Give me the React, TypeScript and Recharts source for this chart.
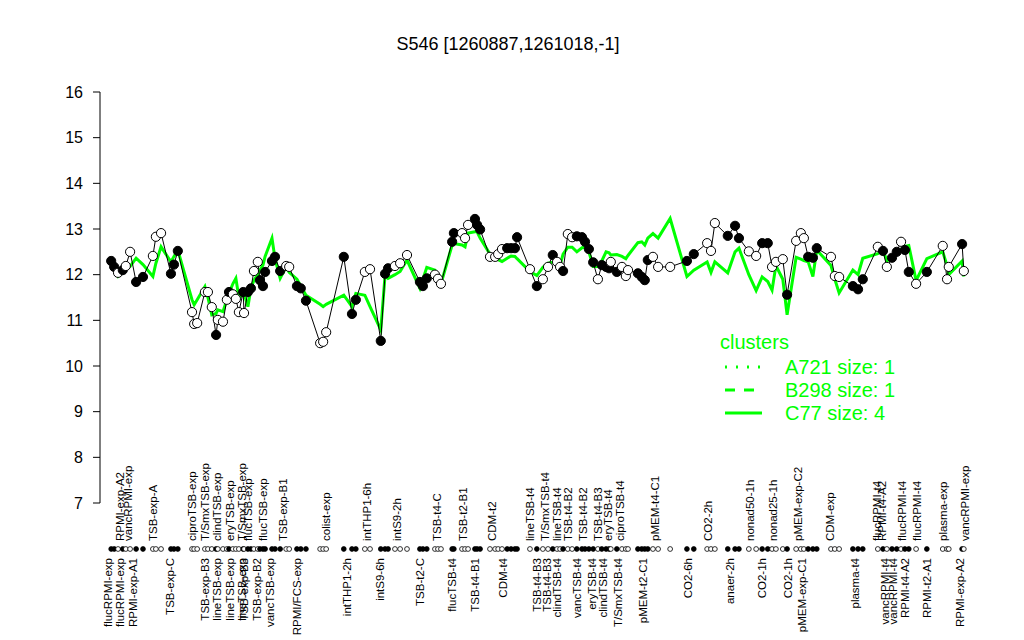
import {
  ComposedChart,
  Line,
  Scatter,
  XAxis,
  YAxis,
} from "recharts";

// position of each sample along the x axis (sample order)
const pos = [
  2.6, 3.3, 4.2, 5.3, 6.0, 7.0, 8.4, 10.0, 12.3, 13.0,
  14.2, 16.5, 17.2, 18.1, 21.4, 21.9, 22.6, 24.4, 25.1, 26.0,
  27.0, 27.4, 28.6, 29.5, 30.0, 30.9, 31.6, 32.3, 33.3, 33.5,
  34.4, 35.1, 35.8, 36.7, 37.2, 37.9, 38.4, 40.0, 40.7, 41.9,
  43.3, 44.0, 45.8, 46.7, 47.9, 51.2, 51.9, 52.6, 56.7, 58.6,
  59.5, 61.6, 62.8, 65.3, 66.3, 67.0, 68.6, 69.8, 71.4, 74.4,
  75.1, 76.0, 77.9, 78.6, 79.3, 81.9, 82.3, 84.2, 84.9, 85.6,
  87.2, 87.7, 88.4, 90.7, 91.9, 92.6, 93.5, 94.7, 95.6, 96.5,
  97.0, 100.0, 101.6, 103.0, 104.2, 105.3, 106.3, 107.0, 107.7, 108.8,
  109.8, 110.9, 112.1, 112.8, 113.7, 114.7, 115.8, 116.7, 117.7, 118.4,
  118.8, 120.2, 121.4, 122.3, 122.8, 125.1, 126.0, 126.7, 127.4, 128.6,
  129.8, 132.6, 136.5, 138.1, 141.2, 142.1, 143.0, 146.0, 147.7, 148.6,
  150.9, 152.6, 154.0, 155.3, 156.3, 157.2, 158.8, 159.8, 161.9, 163.0,
  163.7, 164.7, 165.8, 166.7, 170.0, 170.9, 171.9, 175.1, 176.3, 177.4,
  180.9, 182.1, 183.0, 184.2, 185.3, 186.3, 187.2, 188.1, 189.8, 192.3,
  196.0, 197.0, 197.4, 200.5, 200.9,
];

// S546 expression per sample
const expr = [
  12.30, 12.17, 12.04, 12.10, 12.19, 12.50, 11.84, 11.95, 12.41, 12.83,
  12.91, 12.02, 12.22, 12.52, 11.18, 10.92, 10.94, 11.62, 11.62, 11.29,
  10.68, 11.01, 10.97, 11.45, 11.62, 11.57, 11.47, 11.18, 11.62, 11.16,
  11.62, 11.70, 12.08, 12.28, 11.88, 11.75, 12.06, 12.30, 12.39, 12.08,
  12.19, 12.17, 11.75, 11.70, 11.43, 10.50, 10.53, 10.74, 12.39, 11.14,
  11.45, 12.06, 12.12, 10.55, 12.02, 12.14, 12.19, 12.25, 12.43, 11.84,
  11.75, 11.92, 12.00, 11.91, 11.80, 12.72, 12.91, 12.91, 12.80, 13.09,
  13.22, 13.09, 12.99, 12.39, 12.39, 12.45, 12.56, 12.58, 12.58, 12.58,
  12.82, 12.12, 11.75, 11.90, 12.17, 12.43, 12.28, 12.17, 12.08, 12.89,
  12.82, 12.84, 12.82, 12.72, 12.56, 12.27, 11.90, 12.21, 12.17, 12.14,
  12.28, 12.06, 12.17, 11.97, 12.10, 12.03, 11.95, 11.88, 12.32, 12.39,
  12.17, 12.17, 12.30, 12.45, 12.69, 12.52, 13.13, 12.85, 13.07, 12.80,
  12.51, 12.41, 12.69, 12.69, 12.17, 12.28, 12.34, 11.56, 12.74, 12.91,
  12.80, 12.39, 12.37, 12.58, 12.39, 11.97, 11.95, 11.75, 11.68, 11.90,
  12.61, 12.52, 12.17, 12.37, 12.50, 12.72, 12.54, 12.06, 11.80, 12.06,
  12.63, 11.90, 12.17, 12.67, 12.08,
];

// C77 cluster profile
const fitted = [
  12.21, 12.10, 11.96, 12.05, 12.12, 12.18, 12.36, 12.22, 11.96, 12.25,
  12.61, 12.28, 12.40, 12.54, 11.45, 11.34, 11.45, 11.74, 11.50, 11.12,
  11.15, 11.23, 11.19, 11.45, 11.59, 11.80, 11.92, 11.50, 11.55, 11.59,
  11.30, 11.70, 11.88, 12.00, 12.10, 12.21, 12.40, 12.80, 12.35, 11.92,
  12.18, 12.05, 11.90, 11.75, 11.55, 11.35, 11.30, 11.35, 11.55, 11.30,
  11.59, 11.55, 11.30, 10.79, 11.99, 11.92, 12.00, 12.07, 12.32, 11.70,
  11.90, 12.16, 12.10, 11.85, 11.80, 12.65, 12.68, 12.65, 12.61, 12.91,
  12.94, 12.94, 12.80, 12.45, 12.38, 12.33, 12.29, 12.36, 12.41, 12.40,
  12.35, 12.07, 11.98, 12.16, 12.25, 12.27, 12.23, 12.21, 12.45, 12.60,
  12.60, 12.50, 12.59, 12.60, 12.50, 12.18, 12.18, 12.30, 12.50, 12.48,
  12.43, 12.44, 12.40, 12.35, 12.42, 12.70, 12.72, 12.65, 12.80, 12.90,
  12.80, 13.23, 11.96, 12.10, 12.28, 12.05, 12.28, 12.04, 12.50, 12.58,
  12.00, 11.65, 11.95, 11.85, 11.66, 12.20, 11.90, 11.12, 12.38, 12.34,
  12.31, 12.28, 11.96, 12.54, 12.20, 11.90, 11.60, 12.10, 12.00, 12.36,
  12.46, 12.54, 12.30, 12.36, 12.45, 12.55, 12.62, 12.64, 11.87, 12.35,
  12.50, 12.20, 12.00, 12.30, 11.96,
];

// F = filled marker, W = open marker
const filled =
  "FFWFWWFFWW" + "WFFFWWWWWW" + "FWWWFWWWFW" + "FFWWFFFFFF" + "WWFFFWWWFF" +
  "FWWFFFWWWF" + "FFWWWFFWWW" + "FFFWWWWFFF" + "FWFWWFWWFW" + "WFFFFFWFFF" +
  "WFWWWFFFFW" + "WWFFWWWFFF" + "WWFFWWWFWW" + "WFFFWWWFFF" + "WFWFFWFFWF" +
  "WWWFW";

const topLabels = [
  "RPMI-exp-A2", "vancRPMI-exp", "TSB-exp-A", "ciproTSB-exp", "T/SmxTSB-exp",
  "clindTSB-exp", "eryTSB-exp", "T/SmxTSB-exp", "flucTSB-exp", "flucTSB-exp",
  "TSB-exp-B1", "colist-exp", "intTHP1-6h", "intS9-2h", "TSB-t4-C",
  "TSB-t2-B1", "CDM-t2", "lineTSB-t4", "T/SmxTSB-t4", "lineTSB-t4",
  "TSB-t4-B2", "TSB-t4-B2", "TSB-t4-B3", "eryTSB-t4", "ciproTSB-t4",
  "pMEM-t4-C1", "CO2-2h", "nonad50-1h", "nonad25-1h", "pMEM-exp-C2",
  "CDM-exp", "flucRPMI-t4", "RPMI-t4-A2", "flucRPMI-t4", "flucRPMI-t4",
  "plasma-exp", "vancRPMI-exp",
];
const topLabelPos = [
  4.7, 6.5, 12.3, 21.4, 24.4, 27.2, 30.2, 33.0, 34.4, 37.9,
  42.6, 52.6, 62.1, 69.1, 78.4, 84.4, 91.2, 100.0, 103.5, 106.3,
  108.8, 112.3, 115.8, 118.1, 120.9, 129.1, 141.4, 151.2, 156.5, 162.3,
  169.8, 180.7, 181.9, 186.5, 190.0, 196.0, 201.2,
];

const bottomLabels = [
  "flucRPMI-exp", "flucRPMI-exp", "RPMI-exp-A1", "TSB-exp-C", "TSB-exp-B3",
  "lineTSB-exp", "lineTSB-exp", "lineTSB-exp", "TSB-exp-B3", "TSB-exp-B2",
  "vancTSB-exp", "RPMI/FCS-exp", "intTHP1-2h", "intS9-6h", "TSB-t2-C",
  "flucTSB-t4", "TSB-t4-B1", "CDM-t4", "TSB-t4-B3", "TSB-t4-B3",
  "clindTSB-t4", "vancTSB-t4", "eryTSB-t4", "clindTSB-t4", "T/SmxTSB-t4",
  "pMEM-t2-C1", "CO2-6h", "anaer-2h", "CO2-1h", "CO2-1h",
  "pMEM-exp-C1", "plasma-t4", "vancRPMI-t4", "vancRPMI-t4", "RPMI-t4-A2",
  "RPMI-t2-A1", "RPMI-exp-A2",
];
const bottomLabelPos = [
  1.9, 4.7, 7.7, 16.3, 24.4, 27.2, 30.2, 33.0, 33.5, 36.5,
  39.5, 45.8, 57.4, 65.1, 74.4, 81.9, 87.2, 93.7, 101.6, 104.0,
  106.3, 110.9, 114.4, 117.0, 120.5, 126.3, 136.7, 146.5, 154.0, 160.0,
  163.3, 175.6, 182.6, 184.4, 187.2, 192.3, 200.0,
];

const yTicks = [7, 8, 9, 10, 11, 12, 13, 14, 15, 16];
const legendItems = ["A721 size: 1", "B298 size: 1", "C77 size: 4"];
const legendDash = ["2 9", "10 9", ""];

const GREEN = "#00ff00";
const FONT = "'Liberation Sans', Arial, Helvetica, sans-serif";

const rows = pos.map((p, i) => ({
  pos: p,
  expr: expr[i],
  fitted: fitted[i],
  filled: filled[i] === "F",
}));

// one axis carries the rug marks and both rows of sample labels;
// a tiny nudge keeps label ticks distinct from rug ticks at the same spot
const nPts = pos.length;
const nTop = topLabels.length;
const axisTicks = [
  ...pos,
  ...topLabelPos.map((v) => v + 0.001),
  ...bottomLabelPos.map((v) => v + 0.002),
];

function Marker(props: any) {
  const { cx, cy, payload } = props;
  if (cx == null || cy == null) return null;
  return (
    <circle
      cx={cx}
      cy={cy}
      r={4.6}
      fill={payload.filled ? "#000" : "#fff"}
      stroke="#000"
      strokeWidth={1}
    />
  );
}

function AxisTick(props: any) {
  const { x, y, index } = props;
  if (index < nPts) {
    const f = rows[index].filled;
    return (
      <circle cx={x} cy={y + 46} r={2.4} fill={f ? "#000" : "#fff"} stroke="#000" strokeWidth={0.8} />
    );
  }
  const isTop = index < nPts + nTop;
  const label = isTop ? topLabels[index - nPts] : bottomLabels[index - nPts - nTop];
  const y0 = isTop ? y + 38 : y + 55;
  return (
    <text
      x={x}
      y={y0}
      transform={`rotate(-90, ${x}, ${y0})`}
      textAnchor={isTop ? "start" : "end"}
      dominantBaseline="central"
      fontSize={11.5}
      fontFamily={FONT}
      fill="#000"
    >
      {label}
    </text>
  );
}

export default function App() {
  return (
    <div style={{ position: "absolute", left: 0, top: 0, width: 1024, height: 640, background: "#fff" }}>
      <div
        style={{
          position: "absolute",
          left: 0,
          width: 1016,
          top: 34,
          textAlign: "center",
          fontFamily: FONT,
          fontSize: 18,
          color: "#000",
        }}
      >
        S546 [1260887,1261018,-1]
      </div>
      <ComposedChart
        width={1024}
        height={640}
        data={rows}
        margin={{ top: 92, right: 49, left: 60, bottom: 0 }}
      >
        <XAxis
          type="number"
          dataKey="pos"
          domain={[0, 203.5]}
          allowDataOverflow
          ticks={axisTicks}
          interval={0}
          height={137}
          axisLine={false}
          tickLine={false}
          tickSize={0}
          tickMargin={0}
          tick={<AxisTick />}
        />
        <YAxis
          type="number"
          domain={[7, 16]}
          ticks={yTicks}
          interval={0}
          width={40}
          axisLine={{ stroke: "#000" }}
          tickLine={{ stroke: "#000" }}
          tickSize={7}
          tickMargin={10}
          tick={{ fill: "#000", fontSize: 16, fontFamily: FONT }}
        />
        <Line
          type="linear"
          dataKey="fitted"
          stroke={GREEN}
          strokeWidth={3}
          dot={false}
          isAnimationActive={false}
        />
        <Line
          type="linear"
          dataKey="expr"
          stroke="#000"
          strokeWidth={1}
          dot={false}
          isAnimationActive={false}
        />
        <Scatter dataKey="expr" shape={<Marker />} isAnimationActive={false} />
      </ComposedChart>
      <svg
        width={240}
        height={110}
        style={{ position: "absolute", left: 712, top: 325, fontFamily: FONT }}
      >
        <text x={8} y={17} fontSize={20} fill={GREEN} dominantBaseline="central">
          clusters
        </text>
        {legendItems.map((t, i) => (
          <g key={t}>
            <line
              x1={13}
              x2={50}
              y1={42 + i * 23}
              y2={42 + i * 23}
              stroke={GREEN}
              strokeWidth={3}
              strokeDasharray={legendDash[i]}
            />
            <text x={73} y={42 + i * 23} fontSize={20} fill={GREEN} dominantBaseline="central">
              {t}
            </text>
          </g>
        ))}
      </svg>
    </div>
  );
}
